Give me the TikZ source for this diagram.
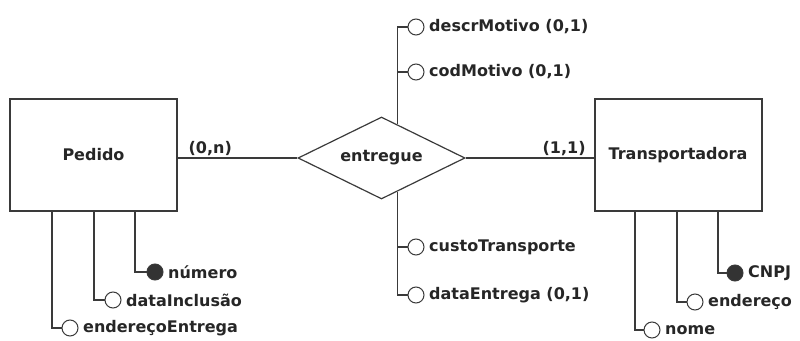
\documentclass[tikz,border=0pt]{standalone}
\usepackage{fontspec}
\setmainfont{DejaVu Sans}
\usetikzlibrary{shapes.geometric,calc}
\definecolor{erline}{HTML}{3A3A3A}

\begin{document}
\begin{tikzpicture}[x=1pt,y=-1pt,
 font=\fontsize{16}{18}\selectfont\bfseries,
 entity/.style={rectangle,draw=erline,line width=2pt,minimum width=167pt,minimum height=112pt,text=black!85},
 rel/.style={diamond,draw=erline,line width=1.2pt,aspect=2,minimum width=167pt,minimum height=82pt,inner sep=0pt,text=black!85},
 attr/.style={circle,draw=erline,line width=1pt,fill=white,minimum size=16pt,inner sep=0pt},
 keyattr/.style={attr,fill=black!80},
 conn/.style={draw=erline,line width=1.4pt},
 lbl/.style={text=black!85,inner sep=1.5pt,xshift=3pt}]
\useasboundingbox (0,0) rectangle (800,340);
\node[entity] (pedido) at (93.5,155) {Pedido};
\node[entity] (transp) at (678,155) {Transportadora};
\node[rel] (entregue) at (381.5,158) {entregue};
\draw[conn] (pedido.east |- entregue.west) -- node[above,lbl,xshift=-3pt,pos=0.27] {(0,n)} (entregue.west);
\draw[conn] (entregue.east) -- node[above,lbl,xshift=-3pt,pos=0.77] {(1,1)} (transp.west |- entregue.east);
% relationship attributes
\coordinate (rtop) at ($(entregue.north)!0.19!(entregue.east)$);
\coordinate (rbot) at ($(entregue.south)!0.19!(entregue.east)$);
\node[attr,label={[lbl]right:descrMotivo (0,1)}] (descr) at (416,27) {};
\node[attr,label={[lbl]right:codMotivo (0,1)}] (cod) at (416,72) {};
\node[attr,label={[lbl]right:custoTransporte}] (custo) at (416,247) {};
\node[attr,label={[lbl]right:dataEntrega (0,1)}] (dataent) at (416,295) {};
\draw[conn] (descr) -| (rtop);
\draw[conn] (cod) -| (rtop);
\draw[conn] (custo) -| (rbot);
\draw[conn] (dataent) -| (rbot);
% Pedido attributes
\node[keyattr,label={[lbl]right:número}] (numero) at (155,272) {};
\node[attr,label={[lbl]right:dataInclusão}] (datainc) at (113,300) {};
\node[attr,label={[lbl]right:endereçoEntrega}] (endent) at (70,328) {};
\draw[conn] ([xshift=41.5pt]pedido.south) |- (numero);
\draw[conn] ([xshift=0.3pt]pedido.south) |- (datainc);
\draw[conn] ([xshift=-41.5pt]pedido.south) |- (endent);
% Transportadora attributes
\node[keyattr,label={[lbl]right:CNPJ}] (cnpj) at (735,273) {};
\node[attr,label={[lbl]right:endereço}] (ender) at (695,302) {};
\node[attr,label={[lbl]right:nome}] (nome) at (652,330) {};
\draw[conn] ([xshift=40pt]transp.south) |- (cnpj);
\draw[conn] ([xshift=-1pt]transp.south) |- (ender);
\draw[conn] ([xshift=-43pt]transp.south) |- (nome);
\end{tikzpicture}
\end{document}
